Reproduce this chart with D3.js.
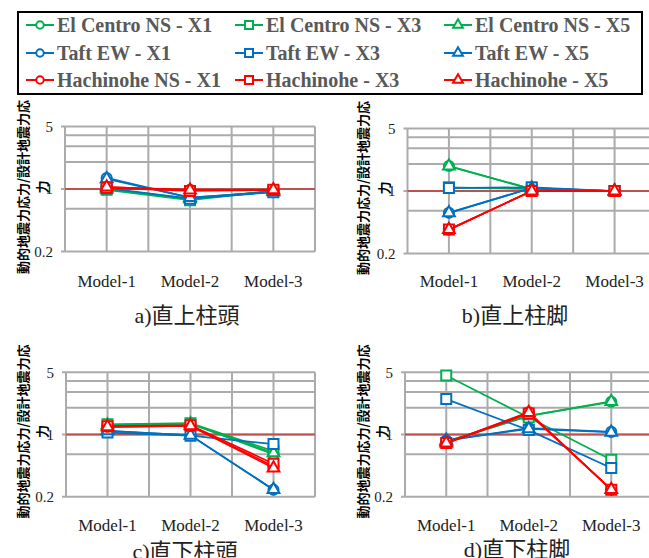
<!DOCTYPE html>
<html>
<head>
<meta charset="utf-8">
<script src="https://cdn.jsdelivr.net/npm/d3@7"></script>
<style>
  body { margin: 0; background: #fff; }
  svg { display: block; }
</style>
</head>
<body>
<div id="chart"></div>
<script>
var categories = ["Model-1", "Model-2", "Model-3"];
var seriesNames = ["El Centro NS - X1", "El Centro NS - X3", "El Centro NS - X5",
                   "Taft EW - X1", "Taft EW - X3", "Taft EW - X5",
                   "Hachinohe NS - X1", "Hachinohe - X3", "Hachinohe - X5"];
var yTicks = [0.2, 1, 5];
var yMinor = [0.6, 2, 3, 4];
var panelTitles = ["a)直上柱頭", "b)直上柱脚", "c)直下柱頭", "d)直下柱脚"];
var yTitleLines = ["動的地震力応力/設計地震力応", "力"];

// one row per series, same order as seriesNames
var valuesA = [
  [1.00, 0.78, 0.95], [0.98, 0.75, 0.95], [1.00, 0.77, 0.95],
  [1.33, 0.80, 0.93], [1.02, 0.78, 0.92], [1.30, 0.80, 0.93],
  [1.05, 0.98, 0.98], [1.03, 0.95, 0.98], [1.05, 0.97, 0.98]
];
var valuesB = [
  [1.90, 1.05, 1.00], [1.10, 1.05, 1.00], [1.90, 1.05, 1.00],
  [0.57, 1.08, 1.00], [1.08, 1.10, 1.00], [0.57, 1.08, 1.00],
  [0.37, 1.00, 1.00], [0.37, 1.00, 1.00], [0.37, 1.00, 1.00]
];
var valuesC = [
  [1.28, 1.32, 0.60], [1.30, 1.34, 0.65], [1.28, 1.32, 0.62],
  [1.10, 0.98, 0.24], [1.05, 0.97, 0.78], [1.10, 0.98, 0.24],
  [1.22, 1.25, 0.44], [1.24, 1.27, 0.47], [1.22, 1.25, 0.42]
];
var valuesD = [
  [0.83, 1.62, 2.33], [4.60, 1.55, 0.52], [0.83, 1.62, 2.35],
  [0.86, 1.18, 1.07], [2.50, 1.12, 0.42], [0.86, 1.16, 1.06],
  [0.80, 1.78, 0.24], [0.80, 1.72, 0.24], [0.80, 1.76, 0.24]
];

var colors = ["#00b050", "#0070c0", "#ff0000"];
var shapes = [d3.symbolCircle, d3.symbolSquare, d3.symbolTriangle];

var svg = d3.select("#chart").append("svg")
  .attr("width", 649)
  .attr("height", 558);

// legend
var legend = svg.append("g");
legend.append("rect")
  .attr("x", 18).attr("y", 12)
  .attr("width", 624).attr("height", 82)
  .style("fill", "none")
  .style("stroke", "#000")
  .style("stroke-width", 2);

var colX = [26, 235, 444];
var rowY = [25, 53, 80];
seriesNames.forEach(function(name, i) {
  var q = Math.floor(i / 3), f = i % 3;
  var g = legend.append("g").attr("transform", "translate(" + colX[f] + "," + rowY[q] + ")");
  g.append("line")
    .attr("x1", 0).attr("x2", 28)
    .style("stroke", colors[q])
    .style("stroke-width", 2);
  g.append("path")
    .attr("transform", "translate(14,0)")
    .attr("d", d3.symbol().type(shapes[f]).size([44, 64, 42][f])())
    .style("fill", "#fff")
    .style("stroke", colors[q])
    .style("stroke-width", 2);
  g.append("text")
    .attr("x", 31)
    .attr("dy", "0.35em")
    .style("font-family", "'Liberation Serif', 'Times New Roman', serif")
    .style("font-weight", "bold")
    .style("font-size", "20px")
    .style("fill", "#595959")
    .text(name);
});

var panels = [
  {vals: valuesA, x0: 65, x1: 315, y0: 126.5, y1: 251.5, catY: 287, titleX: 187, titleY: 323, t1: 23, t2: 42, tY: 187},
  {vals: valuesB, x0: 407.5, x1: 656, y0: 128.5, y1: 253.5, catY: 287, titleX: 515, titleY: 323, t1: 363.5, t2: 384, tY: 188},
  {vals: valuesC, x0: 66, x1: 315, y0: 372.3, y1: 496.7, catY: 530.5, titleX: 185, titleY: 559, t1: 23, t2: 42.5, tY: 431.5},
  {vals: valuesD, x0: 405, x1: 652.5, y0: 372.3, y1: 496.7, catY: 530.5, titleX: 517, titleY: 557, t1: 363, t2: 382.5, tY: 431.5}
];

panels.forEach(function(p, k) {
  var g = svg.append("g");

  var xScale = d3.scaleBand().domain(categories).range([p.x0, p.x1]);
  var xMid = function(c) { return xScale(c) + xScale.bandwidth() / 2; };
  var yScale = d3.scaleLog().base(5).domain([0.2, 5]).range([p.y1, p.y0]);

  // horizontal grid
  g.selectAll(".hgrid")
    .data(yTicks.concat(yMinor))
    .enter().append("line")
      .attr("x1", function(d) { return yTicks.indexOf(d) >= 0 ? p.x0 - 4 : p.x0; })
      .attr("x2", p.x1)
      .attr("y1", function(d) { return yScale(d); })
      .attr("y2", function(d) { return yScale(d); })
      .style("stroke", "#ababab")
      .style("stroke-width", 2);

  // vertical grid: band edges and centres
  var vx = [p.x0];
  categories.forEach(function(c) { vx.push(xMid(c)); vx.push(xScale(c) + xScale.bandwidth()); });
  g.selectAll(".vgrid")
    .data(vx)
    .enter().append("line")
      .attr("x1", function(d) { return d; })
      .attr("x2", function(d) { return d; })
      .attr("y1", p.y0)
      .attr("y2", p.y1)
      .style("stroke", "#ababab")
      .style("stroke-width", 2);

  // reference line at 1
  g.append("line")
    .attr("x1", p.x0).attr("x2", p.x1)
    .attr("y1", yScale(1)).attr("y2", yScale(1))
    .style("stroke", "#c0504d")
    .style("stroke-width", 2);

  // y tick labels
  var yAxis = d3.axisLeft(yScale)
    .tickValues(yTicks)
    .tickSize(0)
    .tickPadding(12)
    .tickFormat(function(d) { return String(d); });
  var ya = g.append("g")
    .attr("transform", "translate(" + p.x0 + ",0)")
    .call(yAxis);
  ya.select(".domain").remove();
  ya.selectAll("text")
    .style("font-family", "'Liberation Serif', 'Times New Roman', serif")
    .style("font-size", "15px")
    .style("fill", "#222");

  // category labels
  g.selectAll(".cat")
    .data(categories)
    .enter().append("text")
      .attr("x", function(d) { return xMid(d); })
      .attr("y", p.catY)
      .style("text-anchor", "middle")
      .style("font-family", "'Liberation Serif', 'Times New Roman', serif")
      .style("font-size", "17px")
      .style("fill", "#222")
      .text(function(d) { return d; });

  // y title, two rotated lines
  [p.t1, p.t2].forEach(function(tx, j) {
    g.append("text")
      .attr("transform", "translate(" + tx + "," + p.tY + ") rotate(-90)")
      .attr("dy", "0.36em")
      .style("text-anchor", "middle")
      .style("font-family", "'Noto Sans CJK JP', sans-serif")
      .style("font-weight", "bold")
      .style("font-size", "13px")
      .style("fill", "#000")
      .text(yTitleLines[j]);
  });

  // panel title
  g.append("text")
    .attr("x", p.titleX)
    .attr("y", p.titleY)
    .style("text-anchor", "middle")
    .style("font-family", "'Liberation Serif', 'Noto Sans CJK JP', serif")
    .style("font-size", "22px")
    .style("fill", "#222")
    .text(panelTitles[k]);

  // series
  var line = d3.line()
    .x(function(d, i) { return xMid(categories[i]); })
    .y(function(d) { return yScale(d); });

  p.vals.forEach(function(vals, i) {
    var q = Math.floor(i / 3), f = i % 3;
    g.append("path")
      .datum(vals)
      .attr("d", line)
      .style("fill", "none")
      .style("stroke", colors[q])
      .style("stroke-width", 1.75);
    g.selectAll(".m" + i)
      .data(vals)
      .enter().append("path")
        .attr("transform", function(d, j) { return "translate(" + xMid(categories[j]) + "," + yScale(d) + ")"; })
        .attr("d", d3.symbol().type(shapes[f]).size([80, 100, 60][f])())
        .style("fill", "#fff")
        .style("stroke", colors[q])
        .style("stroke-width", 2);
  });
});
</script>
</body>
</html>
